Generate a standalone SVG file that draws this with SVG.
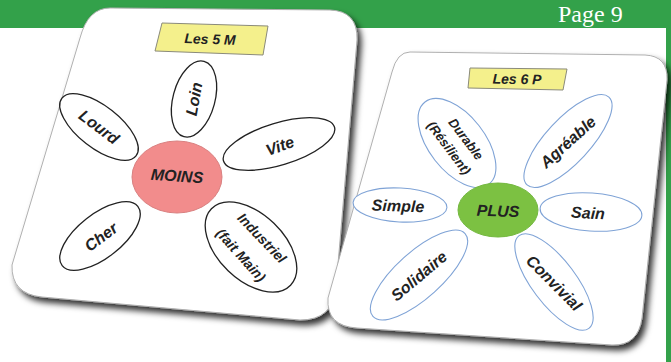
<svg xmlns="http://www.w3.org/2000/svg" width="671" height="362" viewBox="0 0 671 362">
<defs>
<filter id="sh" x="-10%" y="-10%" width="125%" height="125%">
<feDropShadow dx="4" dy="5" stdDeviation="3" flood-color="#000" flood-opacity="0.8"/>
</filter>
</defs>
<style>
.card{fill:#fff;stroke:#b0b0b0;stroke-width:1}
.el{fill:#fff;stroke:#222;stroke-width:1.3}
.eb{fill:#fff;stroke:#7fa3d6;stroke-width:1.1}
.lab{fill:#f4f08c;stroke:#8a8a7a;stroke-width:1}
.t{font-family:"Liberation Sans",Arial,sans-serif;font-weight:bold;font-style:italic;font-size:16px;fill:#222;text-anchor:middle;dominant-baseline:central}
.s14{font-size:14px}
.s13{font-size:13px}
</style>
<rect x="0" y="0" width="671" height="28" fill="#33a14a"/>
<rect x="666" y="28" width="5" height="334" fill="#33a14a"/>
<text x="558" y="22" font-family="'Liberation Serif',serif" font-size="24" fill="#fff">Page  9</text>

<g id="card-moins">
<path class="card" filter="url(#sh)" d="M110,8 L330,10 Q358,11 357,40 L336,288 Q333,320 300,320 L42,297 Q11,294 12,265 L80,38 Q88,8 110,8 Z"/>
<g id="label-5m"><polygon class="lab" points="162,23 268,26 263,55 155,51"/><text class="t s14" transform="translate(210,39) rotate(2)">Les 5 M</text></g>
<g id="loin"><ellipse class="el" cx="194" cy="99" rx="21" ry="39" transform="rotate(15 194 99)"/><text class="t" transform="translate(194,99) rotate(-80)">Loin</text></g>
<g id="lourd"><ellipse class="el" cx="99" cy="127" rx="47" ry="21" transform="rotate(38 99 127)"/><text class="t" transform="translate(99,127) rotate(37)">Lourd</text></g>
<g id="vite"><ellipse class="el" cx="279" cy="144" rx="58" ry="21" transform="rotate(-17 279 144)"/><text class="t" transform="translate(280,146) rotate(-20)">Vite</text></g>
<g id="moins"><ellipse cx="177" cy="177" rx="45" ry="36" fill="#f28c8c" stroke="#d98080" stroke-width="1"/><text class="t" transform="translate(177,176) rotate(4)">MOINS</text></g>
<g id="cher"><ellipse class="el" cx="100" cy="236" rx="48" ry="22" transform="rotate(-38 100 236)"/><text class="t" transform="translate(101,237) rotate(-37)">Cher</text></g>
<g id="industriel"><ellipse class="el" cx="251" cy="247" rx="55" ry="33" transform="rotate(44 251 247)"/><text class="t s14" transform="translate(262,238) rotate(46)">Industriel</text><text class="t s14" transform="translate(241,255) rotate(48)">(fait Main)</text></g>
</g>

<g id="card-plus">
<path class="card" filter="url(#sh)" d="M410,52 L645,55 Q668,56 667,80 L642,318 Q638,346 612,345 L357,328 Q326,326 328,298 L392,72 Q397,52 410,52 Z"/>
<g id="label-6p"><polygon class="lab" points="470,68 567,69 563,90 468,88"/><text class="t s14" transform="translate(517,79) rotate(1)">Les 6 P</text></g>
<g id="durable"><ellipse class="eb" cx="457" cy="143" rx="52" ry="28" transform="rotate(52 457 143)"/><text class="t s13" transform="translate(466,139) rotate(53)">Durable</text><text class="t s13" transform="translate(449,148) rotate(53)">(Résilient)</text></g>
<g id="agreable"><ellipse class="eb" cx="568" cy="141" rx="60" ry="22" transform="rotate(-47 568 141)"/><text class="t" transform="translate(568,142) rotate(-42)">Agréable</text></g>
<g id="simple"><ellipse class="eb" cx="400" cy="205" rx="47" ry="17" transform="rotate(3 400 205)"/><text class="t" transform="translate(398,206) rotate(2)">Simple</text></g>
<g id="plus"><ellipse cx="498" cy="210" rx="40" ry="27" fill="#7cc142" stroke="#74b840" stroke-width="1"/><text class="t" transform="translate(498,211) rotate(2)">PLUS</text></g>
<g id="sain"><ellipse class="eb" cx="591" cy="212" rx="51" ry="19" transform="rotate(4 591 212)"/><text class="t" transform="translate(588,213) rotate(3)">Sain</text></g>
<g id="solidaire"><ellipse class="eb" cx="419" cy="275" rx="62" ry="23" transform="rotate(-42 419 275)"/><text class="t" transform="translate(419,276) rotate(-40)">Solidaire</text></g>
<g id="convivial"><ellipse class="eb" cx="554" cy="282" rx="58" ry="22" transform="rotate(53 554 282)"/><text class="t" transform="translate(554,283) rotate(45)" font-size="15">Convivial</text></g>
</g>
<g id="connectors"/>
</svg>
